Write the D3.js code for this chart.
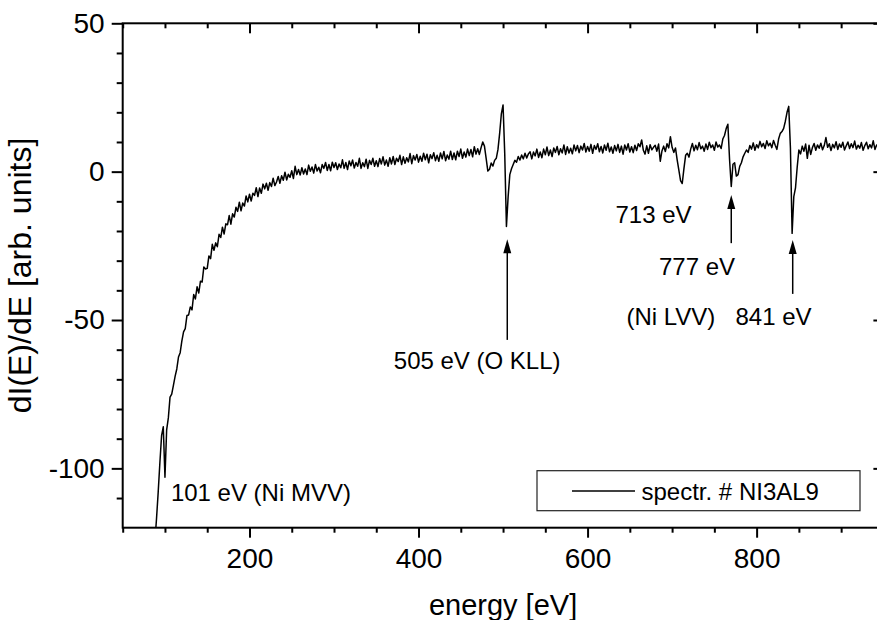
<!DOCTYPE html>
<html>
<head>
<meta charset="utf-8">
<script src="https://cdn.jsdelivr.net/npm/d3@7"></script>
<style>
  html, body { margin: 0; padding: 0; background: #fff; }
  svg { display: block; }
  text { font-family: "Liberation Sans", Arial, Helvetica, sans-serif; fill: #000; }
</style>
</head>
<body>
<svg id="chart" width="877" height="620"></svg>
<script>
// ---------------- data ----------------
const energyStep = 2; // eV between samples

// low-energy ramp incl. Ni MVV (101 eV)
const rampStart = 88;
const rampValues = [
  -125, -117, -108, -98, -89, -86, -103, -87, -83, -76, -75, -72,
  -69, -66.5, -62.5, -61, -57, -54.0, -52.9, -48.5, -48.3, -45.6, -46.6, -41.4, -42.9, -38.8,
  -40.9, -36.9, -37.2, -32.1, -32.8, -32.6, -28.4, -29.3, -24.5, -26.5, -24.0, -25.3, -21.1,
  -22.2, -18.7, -21.0, -17.6, -17.9, -14.8, -17.7, -14.2, -15.3, -12.0, -13.4, -10.3, -13.2,
  -10.6, -11.6, -8.2, -10.2, -7.6, -9.9, -7.3, -8.0, -5.4, -8.4, -5.5, -7.3, -4.2, -5.8, -3.9,
  -6.3, -3.7, -5.0, -2.2, -4.7, -3.5, -1.6, -3.9, -1.4, -2.9, -0.2, -2.8, -0.9, -1.9, 0.3,
  -2.3, 1.8, -1.0, 0.7, -1.1
];

// plateau 262 - 470 eV
const plateauStart = 262;
const plateauValues = [
  1.3, -0.8, 0.9, -1.0, 2.2, 0.1, 1.6, -0.5, 2.4, 0.2, 1.5, -0.4, 2.4, 1.1, 3.1, 0.4, 2.4, 0.3,
  3.2, 1.4, 3.0, 0.7, 2.6, 1.3, 4.0, 1.1, 3.1, 0.7, 3.6, 2.0, 3.9, 1.2, 3.1, 1.8, 4.5, 1.1, 3.0,
  1.7, 4.2, 1.1, 3.8, 2.4, 4.5, 1.8, 3.7, 1.7, 4.4, 2.6, 5.0, 2.2, 3.9, 1.8, 4.7, 2.6, 5.1, 2.4,
  4.5, 3.4, 5.5, 2.4, 5.0, 2.8, 4.7, 3.3, 6.1, 2.7, 5.4, 3.9, 5.8, 3.2, 5.2, 3.5, 6.2, 4.0, 5.9,
  3.0, 5.7, 4.4, 6.4, 3.7, 5.5, 3.5, 6.3, 4.3, 6.8, 3.7, 5.6, 4.2, 6.9, 4.1, 6.3, 4.0, 6.9, 5.1,
  7.6, 4.5, 6.6, 4.9, 7.6, 5.4, 7.5, 5.0, 8.4, 5.9, 7.7
];

// O KLL region 472 - 530 eV
const oxygenStart = 472;
const oxygenValues = [
  5.8, 8.1, 10.0, 8.6, 4.5, 0.2, 0.8, 2.9, 1.9, 3.8, 4.5, 7.5, 13.0, 19.5, 22.5, 6.0, -18.5,
  -8.5, -1.0, 1.0, 2.4, 3.8, 3.2, 5.1, 3.9, 5.6, 4.3, 6.2, 4.6, 6.0
];

// 532 - 722 eV incl. 713 eV
const midStart = 532;
const midValues = [
  6.7, 4.3, 6.6, 5.3, 7.6, 4.8, 6.6, 4.7, 7.6, 5.7, 8.3, 5.4, 7.3, 5.1, 8.0, 6.5, 8.5, 5.7, 7.7,
  6.3, 9.0, 5.8, 8.4, 6.3, 7.9, 6.0, 9.0, 7.0, 8.8, 6.4, 8.6, 7.3, 9.5, 6.6, 8.5, 6.9, 9.2, 6.2,
  8.8, 7.5, 9.4, 6.7, 8.5, 6.3, 9.0, 7.2, 9.6, 6.7, 8.3, 6.2, 8.8, 7.0, 9.2, 6.5, 8.6, 5.9, 9.0,
  7.3, 9.4, 6.6, 8.4, 6.4, 8.9, 7.1, 9.4, 8.4, 10.7, 7.2, 5.9, 8.7, 6.2, 9.1, 7.4, 8.2, 8.9, 6.9,
  9.3, 3.5, 7.0, 8.6, 6.8, 9.4, 8.0, 11.8, 8.2, 6.5, 8.0, 4.0, 0.5, -3.0, -4.0, 1.0, 5.5, 6.2,
  4.9, 7.6
];

// Ni LVV region 724 - 950 eV incl. 777 eV and 841 eV
const nickelStart = 724;
const nickelValues = [
  9.5, 7.0, 8.9, 7.4, 9.8, 7.7, 8.6, 6.9, 9.3, 7.5, 9.9, 8.1, 9.0, 7.2, 10.0, 8.3, 9.0, 7.8,
  11.0, 12.2, 14.5, 16.0, 4.0, -5.0, 2.5, 3.0, -1.5, -1.0, 1.8, 3.0, 5.0, 6.2, 7.3,
  6.5, 8.8, 7.6, 9.7, 7.2, 9.1, 8.0, 10.2, 8.4, 9.5, 7.8, 10.4, 8.7, 9.6, 8.1, 10.5, 8.9, 7.5,
  11.0, 12.9, 13.5, 14.6, 17.0, 20.0, 22.0, 8.0, -20.8, -8.4, -5.5, 1.5, 7.3, 6.0,
  8.6, 6.9, 9.3, 4.5, 8.9, 5.8, 8.1, 9.5, 7.2, 9.0, 7.9, 9.6, 7.4, 8.8, 11.5, 8.2, 9.4, 7.1,
  9.2, 8.0, 10.1, 7.5, 9.3, 8.2, 9.9, 7.3, 8.7, 10.0, 7.8, 9.4, 8.1, 10.3, 7.6, 8.9, 7.9, 9.8,
  7.2, 8.8, 9.9, 7.7, 9.1, 8.0, 10.4, 7.5, 9.0, 8.3, 9.7, 7.4, 8.6
];

// axes
const xDomain = [50, 950];
const yDomain = [-120, 50];
const xMajorTicks = [200, 400, 600, 800];
const xMinorTicks = [50, 100, 150, 250, 300, 350, 450, 500, 550, 650, 700, 750, 850, 900, 950];
const yMajorTicks = [-100, -50, 0, 50];
const yMinorTicks = [-110, -90, -80, -70, -60, -40, -30, -20, -10, 10, 20, 30, 40];
const xTitle = "energy [eV]";
const yTitle = "dI(E)/dE [arb. units]";
const legendLabel = "spectr. # NI3AL9";

// annotations (energy, value position of text; arrows from -> to in data units)
const labels = [
  { text: "101 eV (Ni MVV)", e: 107, v: -111, anchor: "start" },
  { text: "505 eV (O KLL)", e: 469.4, v: -66.5, anchor: "middle" },
  { text: "713 eV", e: 633, v: -17.4, anchor: "start" },
  { text: "777 eV", e: 684.5, v: -34.8, anchor: "start" },
  { text: "(Ni LVV)", e: 646, v: -51.6, anchor: "start" },
  { text: "841 eV", e: 775, v: -51.6, anchor: "start" }
];
const arrows = [
  { e: 505, from: -56.7, to: -22.8 },
  { e: 770, from: -24.1, to: -7.9 },
  { e: 842.7, from: -41.2, to: -23.0 }
];

// ---------------- drawing ----------------
(function draw() {
  const segments = [
    { start: rampStart, values: rampValues },
    { start: plateauStart, values: plateauValues },
    { start: oxygenStart, values: oxygenValues },
    { start: midStart, values: midValues },
    { start: nickelStart, values: nickelValues }
  ];
  const data = segments.flatMap(s => s.values.map((v, i) => ({ e: s.start + i * energyStep, v })));

  const svg = d3.select("#chart");
  const pLeft = 122.7, pRight = 883.4, pTop = 23.3, pBottom = 527.7;

  const x = d3.scaleLinear().domain(xDomain).range([pLeft, pRight]);
  const y = d3.scaleLinear().domain(yDomain).range([pBottom, pTop]);

  svg.append("rect").attr("width", 877).attr("height", 620).attr("fill", "#fff");

  svg.append("defs").append("clipPath").attr("id", "plotClip")
    .append("rect").attr("x", pLeft).attr("y", pTop).attr("width", pRight - pLeft).attr("height", pBottom - pTop);

  // spectrum line
  svg.append("path")
    .datum(data)
    .attr("clip-path", "url(#plotClip)")
    .attr("fill", "none")
    .attr("stroke", "#000")
    .attr("stroke-width", 1.5)
    .attr("stroke-linejoin", "round")
    .attr("d", d3.line().x(d => x(d.e)).y(d => y(d.v)));

  const plainFormat = d => String(d); // hyphen-minus like the reference

  function styleAxis(g) {
    g.select(".domain").remove();
    g.selectAll(".tick line").attr("stroke", "#000").attr("stroke-width", 2);
    g.selectAll(".tick text").style("font-size", "28px").attr("fill", "#000")
      .style("font-family", "'Liberation Sans', Arial, sans-serif");
  }

  // bottom
  svg.append("g").attr("transform", `translate(0,${pBottom})`)
    .call(d3.axisBottom(x).tickValues(xMinorTicks).tickSize(5).tickFormat(""))
    .call(styleAxis);
  svg.append("g").attr("transform", `translate(0,${pBottom})`)
    .call(d3.axisBottom(x).tickValues(xMajorTicks).tickSize(10).tickPadding(10.3).tickFormat(plainFormat))
    .call(styleAxis);
  // top (inward)
  svg.append("g").attr("transform", `translate(0,${pTop})`)
    .call(d3.axisTop(x).tickValues(xMinorTicks).tickSize(-5).tickFormat(""))
    .call(styleAxis);
  svg.append("g").attr("transform", `translate(0,${pTop})`)
    .call(d3.axisTop(x).tickValues(xMajorTicks).tickSize(-10).tickFormat(""))
    .call(styleAxis);
  // left
  svg.append("g").attr("transform", `translate(${pLeft},0)`)
    .call(d3.axisLeft(y).tickValues(yMinorTicks).tickSize(6).tickFormat(""))
    .call(styleAxis);
  svg.append("g").attr("transform", `translate(${pLeft},0)`)
    .call(d3.axisLeft(y).tickValues(yMajorTicks).tickSize(11).tickPadding(7).tickFormat(plainFormat))
    .call(styleAxis);
  // right (inward)
  svg.append("g").attr("transform", `translate(${pRight},0)`)
    .call(d3.axisRight(y).tickValues(yMinorTicks).tickSize(-5).tickFormat(""))
    .call(styleAxis);
  svg.append("g").attr("transform", `translate(${pRight},0)`)
    .call(d3.axisRight(y).tickValues(yMajorTicks).tickSize(-10).tickFormat(""))
    .call(styleAxis);

  // frame
  svg.append("rect")
    .attr("x", pLeft).attr("y", pTop).attr("width", pRight - pLeft).attr("height", pBottom - pTop)
    .attr("fill", "none").attr("stroke", "#000").attr("stroke-width", 2);

  // axis titles
  svg.append("text")
    .attr("x", (pLeft + pRight) / 2).attr("y", 615)
    .attr("text-anchor", "middle").style("font-size", "29px")
    .text(xTitle);
  svg.append("text")
    .attr("transform", `translate(31,${(pTop + pBottom) / 2}) rotate(-90)`)
    .attr("text-anchor", "middle").style("font-size", "32px")
    .text(yTitle);

  // annotations
  svg.selectAll("text.ann").data(labels).enter().append("text")
    .attr("class", "ann")
    .attr("x", d => x(d.e)).attr("y", d => y(d.v))
    .attr("text-anchor", d => d.anchor)
    .style("font-size", "24px")
    .text(d => d.text);

  const headLen = 14, headHalf = 4;
  arrows.forEach(a => {
    const ax = x(a.e), yTip = y(a.to), yBase = y(a.from);
    svg.append("line")
      .attr("x1", ax).attr("x2", ax)
      .attr("y1", yBase).attr("y2", yTip + headLen - 1)
      .attr("stroke", "#000").attr("stroke-width", 1.5);
    svg.append("path")
      .attr("d", `M${ax},${yTip} L${ax - headHalf},${yTip + headLen} L${ax + headHalf},${yTip + headLen} Z`)
      .attr("fill", "#000");
  });

  // legend
  const lg = svg.append("g");
  lg.append("rect")
    .attr("x", 537).attr("y", 470.7).attr("width", 323).attr("height", 40)
    .attr("fill", "#fff").attr("stroke", "#222").attr("stroke-width", 1.2);
  lg.append("line")
    .attr("x1", 572).attr("x2", 635).attr("y1", 491).attr("y2", 491)
    .attr("stroke", "#000").attr("stroke-width", 1.4);
  lg.append("text")
    .attr("x", 641.5).attr("y", 499.5)
    .style("font-size", "24px")
    .text(legendLabel);
})();
</script>
</body>
</html>
